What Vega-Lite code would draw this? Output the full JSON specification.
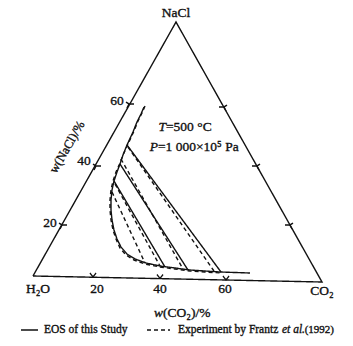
{
  "$schema": "https://vega.github.io/schema/vega-lite/v6.json",
  "width": 353,
  "height": 346,
  "autosize": {"type": "fit", "contains": "padding"},
  "padding": 0,
  "background": "white",
  "config": {"view": {"stroke": null}, "text": {"font": "Liberation Serif", "color": "#111", "stroke": "#111", "strokeWidth": 0.35}},
  "datasets": {
    "lines": [
      {"id": "tri", "s": "solid", "o": 0, "x": 33, "y": 276},
      {"id": "tri", "s": "solid", "o": 1, "x": 176, "y": 22},
      {"id": "tri", "s": "solid", "o": 2, "x": 322, "y": 282},
      {"id": "tri", "s": "solid", "o": 3, "x": 33, "y": 276},

      {"id": "tl20", "s": "solid", "o": 0, "x": 59, "y": 223},
      {"id": "tl20", "s": "solid", "o": 1, "x": 62, "y": 225},
      {"id": "tl20", "s": "solid", "o": 2, "x": 67, "y": 225},
      {"id": "tl20", "s": "solid", "o": 3, "x": 62, "y": 225},
      {"id": "tl20", "s": "solid", "o": 4, "x": 60, "y": 229},
      {"id": "tl40", "s": "solid", "o": 0, "x": 93, "y": 164},
      {"id": "tl40", "s": "solid", "o": 1, "x": 96, "y": 166},
      {"id": "tl40", "s": "solid", "o": 2, "x": 101, "y": 166},
      {"id": "tl40", "s": "solid", "o": 3, "x": 96, "y": 166},
      {"id": "tl40", "s": "solid", "o": 4, "x": 94, "y": 170},
      {"id": "tl60", "s": "solid", "o": 0, "x": 126, "y": 102},
      {"id": "tl60", "s": "solid", "o": 1, "x": 129, "y": 104},
      {"id": "tl60", "s": "solid", "o": 2, "x": 134, "y": 104},
      {"id": "tl60", "s": "solid", "o": 3, "x": 129, "y": 104},
      {"id": "tl60", "s": "solid", "o": 4, "x": 127, "y": 108},
      {"id": "tr20", "s": "solid", "o": 0, "x": 293, "y": 223},
      {"id": "tr20", "s": "solid", "o": 1, "x": 290, "y": 225},
      {"id": "tr20", "s": "solid", "o": 2, "x": 285, "y": 225},
      {"id": "tr20", "s": "solid", "o": 3, "x": 290, "y": 225},
      {"id": "tr20", "s": "solid", "o": 4, "x": 292, "y": 229},
      {"id": "tr40", "s": "solid", "o": 0, "x": 260, "y": 164},
      {"id": "tr40", "s": "solid", "o": 1, "x": 257, "y": 166},
      {"id": "tr40", "s": "solid", "o": 2, "x": 252, "y": 166},
      {"id": "tr40", "s": "solid", "o": 3, "x": 257, "y": 166},
      {"id": "tr40", "s": "solid", "o": 4, "x": 259, "y": 170},
      {"id": "tr60", "s": "solid", "o": 0, "x": 227, "y": 105},
      {"id": "tr60", "s": "solid", "o": 1, "x": 224, "y": 107},
      {"id": "tr60", "s": "solid", "o": 2, "x": 219, "y": 107},
      {"id": "tr60", "s": "solid", "o": 3, "x": 224, "y": 107},
      {"id": "tr60", "s": "solid", "o": 4, "x": 226, "y": 111},
      {"id": "tb20", "s": "solid", "o": 0, "x": 90, "y": 273},
      {"id": "tb20", "s": "solid", "o": 1, "x": 93, "y": 277},
      {"id": "tb20", "s": "solid", "o": 2, "x": 96, "y": 273},
      {"id": "tb40", "s": "solid", "o": 0, "x": 157, "y": 274.5},
      {"id": "tb40", "s": "solid", "o": 1, "x": 160, "y": 278.5},
      {"id": "tb40", "s": "solid", "o": 2, "x": 163, "y": 274.5},
      {"id": "tb60", "s": "solid", "o": 0, "x": 223, "y": 276},
      {"id": "tb60", "s": "solid", "o": 1, "x": 226, "y": 280},
      {"id": "tb60", "s": "solid", "o": 2, "x": 229, "y": 276},

      {"id": "bin", "s": "solid", "o": 0, "x": 144, "y": 107},
      {"id": "bin", "s": "solid", "o": 1, "x": 141, "y": 114},
      {"id": "bin", "s": "solid", "o": 2, "x": 137, "y": 122},
      {"id": "bin", "s": "solid", "o": 3, "x": 133, "y": 132},
      {"id": "bin", "s": "solid", "o": 4, "x": 127, "y": 145},
      {"id": "bin", "s": "solid", "o": 5, "x": 123, "y": 155},
      {"id": "bin", "s": "solid", "o": 6, "x": 120, "y": 164},
      {"id": "bin", "s": "solid", "o": 7, "x": 117, "y": 172},
      {"id": "bin", "s": "solid", "o": 8, "x": 114, "y": 181},
      {"id": "bin", "s": "solid", "o": 9, "x": 112, "y": 190},
      {"id": "bin", "s": "solid", "o": 10, "x": 111, "y": 200},
      {"id": "bin", "s": "solid", "o": 11, "x": 111, "y": 210},
      {"id": "bin", "s": "solid", "o": 12, "x": 112, "y": 220},
      {"id": "bin", "s": "solid", "o": 13, "x": 114, "y": 230},
      {"id": "bin", "s": "solid", "o": 14, "x": 117, "y": 239},
      {"id": "bin", "s": "solid", "o": 15, "x": 121, "y": 247},
      {"id": "bin", "s": "solid", "o": 16, "x": 127, "y": 254},
      {"id": "bin", "s": "solid", "o": 17, "x": 135, "y": 259},
      {"id": "bin", "s": "solid", "o": 18, "x": 146, "y": 263},
      {"id": "bin", "s": "solid", "o": 19, "x": 160, "y": 266},
      {"id": "bin", "s": "solid", "o": 20, "x": 175, "y": 268},
      {"id": "bin", "s": "solid", "o": 21, "x": 190, "y": 270},
      {"id": "bin", "s": "solid", "o": 22, "x": 205, "y": 271},
      {"id": "bin", "s": "solid", "o": 23, "x": 220, "y": 272},
      {"id": "bin", "s": "solid", "o": 24, "x": 235, "y": 272.5},
      {"id": "bin", "s": "solid", "o": 25, "x": 250, "y": 273},

      {"id": "bind", "s": "dash", "o": 0, "x": 145, "y": 106},
      {"id": "bind", "s": "dash", "o": 1, "x": 142, "y": 113},
      {"id": "bind", "s": "dash", "o": 2, "x": 138, "y": 121},
      {"id": "bind", "s": "dash", "o": 3, "x": 134, "y": 131},
      {"id": "bind", "s": "dash", "o": 4, "x": 128, "y": 144},
      {"id": "bind", "s": "dash", "o": 5, "x": 123, "y": 155},
      {"id": "bind", "s": "dash", "o": 6, "x": 120, "y": 163},
      {"id": "bind", "s": "dash", "o": 7, "x": 116, "y": 172},
      {"id": "bind", "s": "dash", "o": 8, "x": 113, "y": 181},
      {"id": "bind", "s": "dash", "o": 9, "x": 111, "y": 190},
      {"id": "bind", "s": "dash", "o": 10, "x": 110, "y": 200},
      {"id": "bind", "s": "dash", "o": 11, "x": 110, "y": 210},
      {"id": "bind", "s": "dash", "o": 12, "x": 111, "y": 220},
      {"id": "bind", "s": "dash", "o": 13, "x": 113, "y": 230},
      {"id": "bind", "s": "dash", "o": 14, "x": 116, "y": 239},
      {"id": "bind", "s": "dash", "o": 15, "x": 120, "y": 248},
      {"id": "bind", "s": "dash", "o": 16, "x": 126, "y": 255},
      {"id": "bind", "s": "dash", "o": 17, "x": 134, "y": 260},
      {"id": "bind", "s": "dash", "o": 18, "x": 145, "y": 264},
      {"id": "bind", "s": "dash", "o": 19, "x": 160, "y": 267},
      {"id": "bind", "s": "dash", "o": 20, "x": 175, "y": 269},
      {"id": "bind", "s": "dash", "o": 21, "x": 190, "y": 271},
      {"id": "bind", "s": "dash", "o": 22, "x": 205, "y": 272},
      {"id": "bind", "s": "dash", "o": 23, "x": 222, "y": 273},

      {"id": "t1", "s": "solid", "o": 0, "x": 127, "y": 145},
      {"id": "t1", "s": "solid", "o": 1, "x": 221, "y": 272},
      {"id": "t2", "s": "solid", "o": 0, "x": 120, "y": 164},
      {"id": "t2", "s": "solid", "o": 1, "x": 188, "y": 270},
      {"id": "t3", "s": "solid", "o": 0, "x": 114, "y": 181},
      {"id": "t3", "s": "solid", "o": 1, "x": 165, "y": 267},
      {"id": "d1", "s": "dash", "o": 0, "x": 128, "y": 147},
      {"id": "d1", "s": "dash", "o": 1, "x": 214, "y": 271},
      {"id": "d2", "s": "dash", "o": 0, "x": 121, "y": 159},
      {"id": "d2", "s": "dash", "o": 1, "x": 183, "y": 269},
      {"id": "d3", "s": "dash", "o": 0, "x": 115, "y": 184},
      {"id": "d3", "s": "dash", "o": 1, "x": 160, "y": 266},
      {"id": "d4", "s": "dash", "o": 0, "x": 112, "y": 192},
      {"id": "d4", "s": "dash", "o": 1, "x": 145, "y": 263},

      {"id": "legS", "s": "solid", "o": 0, "x": 21, "y": 330},
      {"id": "legS", "s": "solid", "o": 1, "x": 38, "y": 330},
      {"id": "legD", "s": "dash", "o": 0, "x": 147, "y": 330},
      {"id": "legD", "s": "dash", "o": 1, "x": 170, "y": 330}
    ]
  },
  "layer": [
    {
      "data": {"name": "lines"},
      "mark": {"type": "line", "color": "#111", "strokeWidth": 1.4, "strokeCap": "butt"},
      "encoding": {
        "x": {"field": "x", "type": "quantitative", "scale": {"domain": [0, 353], "nice": false, "zero": false}, "axis": null},
        "y": {"field": "y", "type": "quantitative", "scale": {"domain": [0, 346], "nice": false, "zero": false, "reverse": true}, "axis": null},
        "detail": {"field": "id"},
        "order": {"field": "o", "type": "quantitative"},
        "strokeDash": {"field": "s", "type": "nominal", "scale": {"domain": ["solid", "dash"], "range": [[1, 0], [4, 3]]}, "legend": null}
      }
    },
    {
      "data": {"values": [
        {"t": "NaCl", "x": 176, "y": 13},
        {"t": "60", "x": 117, "y": 101},
        {"t": "40", "x": 84, "y": 161},
        {"t": "20", "x": 50, "y": 223},
        {"t": "H₂O", "x": 38, "y": 289},
        {"t": "20", "x": 97, "y": 289},
        {"t": "40", "x": 160, "y": 289},
        {"t": "60", "x": 225, "y": 289},
        {"t": "CO₂", "x": 322, "y": 291}
      ]},
      "mark": {"type": "text", "fontSize": 13.5, "align": "center", "baseline": "middle"},
      "encoding": {
        "x": {"field": "x", "type": "quantitative"},
        "y": {"field": "y", "type": "quantitative"},
        "text": {"field": "t"}
      }
    },
    {
      "data": {"values": [{"t": "w(NaCl)/%", "x": 67, "y": 147}]},
      "mark": {"type": "text", "fontSize": 12.5, "align": "center", "baseline": "middle", "angle": -60},
      "encoding": {
        "x": {"field": "x", "type": "quantitative"},
        "y": {"field": "y", "type": "quantitative"},
        "text": {"field": "t"}
      }
    },
    {
      "data": {"values": [
        {"t": "w", "x": 163, "y": 313},
        {"t": "T", "x": 166, "y": 127},
        {"t": "P", "x": 158, "y": 147}
      ]},
      "mark": {"type": "text", "fontSize": 13.5, "fontStyle": "italic", "align": "right", "baseline": "middle"},
      "encoding": {
        "x": {"field": "x", "type": "quantitative"},
        "y": {"field": "y", "type": "quantitative"},
        "text": {"field": "t"}
      }
    },
    {
      "data": {"values": [
        {"t": "(CO₂)/%", "x": 163, "y": 313},
        {"t": "=500 °C", "x": 166, "y": 127},
        {"t": "=1 000×10⁵ Pa", "x": 158, "y": 147}
      ]},
      "mark": {"type": "text", "fontSize": 13.5, "align": "left", "baseline": "middle"},
      "encoding": {
        "x": {"field": "x", "type": "quantitative"},
        "y": {"field": "y", "type": "quantitative"},
        "text": {"field": "t"}
      }
    },
    {
      "data": {"values": [
        {"t": "EOS of this Study", "x": 44, "y": 330},
        {"t": "Experiment by Frantz", "x": 178, "y": 330}
      ]},
      "mark": {"type": "text", "fontSize": 11.5, "align": "left", "baseline": "middle"},
      "encoding": {
        "x": {"field": "x", "type": "quantitative"},
        "y": {"field": "y", "type": "quantitative"},
        "text": {"field": "t"}
      }
    },
    {
      "data": {"values": [{"t": "(1992)", "x": 334, "y": 330}]},
      "mark": {"type": "text", "fontSize": 11, "align": "right", "baseline": "middle"},
      "encoding": {
        "x": {"field": "x", "type": "quantitative"},
        "y": {"field": "y", "type": "quantitative"},
        "text": {"field": "t"}
      }
    },
    {
      "data": {"values": [{"t": "et al.", "x": 282, "y": 330}]},
      "mark": {"type": "text", "fontSize": 11.5, "fontStyle": "italic", "align": "left", "baseline": "middle"},
      "encoding": {
        "x": {"field": "x", "type": "quantitative"},
        "y": {"field": "y", "type": "quantitative"},
        "text": {"field": "t"}
      }
    }
  ]
}
